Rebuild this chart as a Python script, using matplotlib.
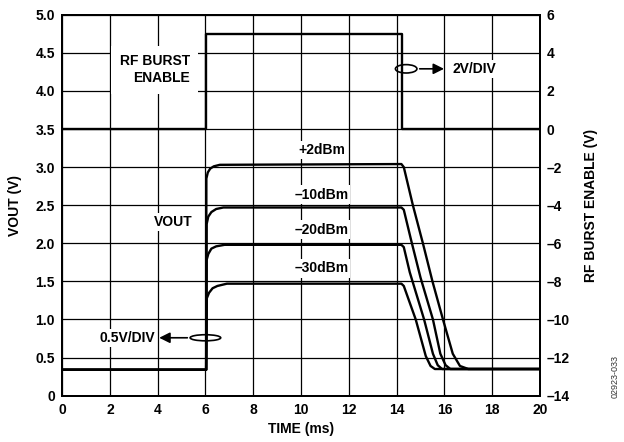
import matplotlib
matplotlib.use('Agg')
import matplotlib.pyplot as plt
from matplotlib.patches import Ellipse

plt.rcParams['font.family'] = ['Liberation Sans', 'DejaVu Sans']
plt.rcParams['font.weight'] = 'bold'
plt.rcParams['axes.labelweight'] = 'bold'

# VOUT traces (left axis, V)
t_p2 = [0, 6.03, 6.04, 6.1, 6.2, 6.35, 6.6, 14.2, 14.3, 14.68, 15.1, 15.5, 15.94, 16.35, 16.65, 17.0, 20]
v_p2 = [0.34, 0.34, 2.85, 2.93, 2.98, 3.01, 3.03, 3.04, 3.0, 2.5, 2.0, 1.5, 1.0, 0.55, 0.39, 0.35, 0.35]

t_m10 = [0, 6.03, 6.05, 6.12, 6.25, 6.45, 6.75, 14.2, 14.3, 14.6, 15.0, 15.52, 15.83, 16.05, 16.25, 20]
v_m10 = [0.34, 0.34, 2.25, 2.35, 2.41, 2.45, 2.47, 2.47, 2.44, 2.05, 1.55, 1.0, 0.55, 0.4, 0.35, 0.35]

t_m20 = [0, 6.03, 6.05, 6.12, 6.25, 6.45, 6.8, 14.2, 14.3, 14.55, 15.15, 15.52, 15.72, 15.9, 20]
v_m20 = [0.34, 0.34, 1.78, 1.86, 1.93, 1.96, 1.98, 1.98, 1.95, 1.62, 1.0, 0.55, 0.4, 0.35, 0.35]

t_m30 = [0, 6.03, 6.06, 6.15, 6.3, 6.5, 6.9, 14.2, 14.3, 14.8, 15.22, 15.42, 15.6, 20]
v_m30 = [0.34, 0.34, 1.28, 1.35, 1.41, 1.44, 1.47, 1.47, 1.44, 1.0, 0.52, 0.39, 0.35, 0.35]

# RF burst enable (right axis, V)
t_burst = [0, 6.04, 6.04, 14.22, 14.22, 20]
v_burst = [0, 0, 5.0, 5.0, 0, 0]

trace_labels = ['+2dBm', '\u201310dBm', '\u201320dBm', '\u201330dBm']
label_y = [3.22, 2.64, 2.18, 1.67]

x_ticks = list(range(0, 21, 2))
left_ticks = [0, 0.5, 1.0, 1.5, 2.0, 2.5, 3.0, 3.5, 4.0, 4.5, 5.0]
left_ticklabels = ['0', '0.5', '1.0', '1.5', '2.0', '2.5', '3.0', '3.5', '4.0', '4.5', '5.0']
right_ticks = list(range(-14, 7, 2))
right_ticklabels = [str(v).replace('-', '\u2013') for v in right_ticks]

fig = plt.figure(figsize=(6.24, 4.42), dpi=100)
ax = fig.add_axes([0.0994, 0.1048, 0.7660, 0.8619])

ax.set_xlim(0, 20)
ax.set_ylim(0, 5)
ax.set_xticks(x_ticks)
ax.set_yticks(left_ticks)
ax.set_yticklabels(left_ticklabels)
ax.grid(True, color='black', lw=0.9)
ax.set_axisbelow(True)
ax.tick_params(length=0, labelsize=10, pad=5)
for s in ax.spines.values():
    s.set_linewidth(1.4)

for t, v in [(t_p2, v_p2), (t_m10, v_m10), (t_m20, v_m20), (t_m30, v_m30)]:
    ax.plot(t, v, color='black', lw=1.7, zorder=4)

box = dict(facecolor='white', edgecolor='none', pad=1.5)
for lab, y in zip(trace_labels, label_y):
    ax.text(10.85, y, lab, ha='center', va='center', fontsize=10, bbox=box, zorder=3)

ax.text(5.35, 4.28, 'RF BURST\nENABLE', ha='right', va='center', fontsize=10,
        multialignment='right', linespacing=1.3,
        bbox=dict(facecolor='white', edgecolor='none', pad=6), zorder=3)
ax.text(5.45, 2.28, 'VOUT', ha='right', va='center', fontsize=10, bbox=box, zorder=3)

# scale markers
ax.add_patch(Ellipse((14.4, 4.29), 0.9, 0.11, fill=False, ec='black', lw=1.2, zorder=5))
ax.annotate('', xy=(16.1, 4.29), xytext=(14.85, 4.29),
            arrowprops=dict(arrowstyle='-|>', color='black', lw=1.2, mutation_scale=16), zorder=5)
ax.text(16.35, 4.29, '2V/DIV', ha='left', va='center', fontsize=10, bbox=box, zorder=3)

ax.add_patch(Ellipse((6.0, 0.76), 1.28, 0.08, fill=False, ec='black', lw=1.2, zorder=5))
ax.annotate('', xy=(3.95, 0.76), xytext=(5.36, 0.76),
            arrowprops=dict(arrowstyle='-|>', color='black', lw=1.2, mutation_scale=16), zorder=5)
ax.text(3.9, 0.76, '0.5V/DIV', ha='right', va='center', fontsize=10, bbox=box, zorder=3)

ax.set_xlabel('TIME (ms)', fontsize=10, fontweight='bold', labelpad=4)
ax.set_ylabel('VOUT (V)', fontsize=10, fontweight='bold', labelpad=10)

ax2 = ax.twinx()
ax2.set_ylim(-14, 6)
ax2.set_yticks(right_ticks)
ax2.set_yticklabels(right_ticklabels)
ax2.tick_params(length=0, labelsize=10, pad=5)
ax2.plot(t_burst, v_burst, color='black', lw=1.7)
ax2.set_ylabel('RF BURST ENABLE (V)', fontsize=10, fontweight='bold', rotation=90, labelpad=10)
for s in ax2.spines.values():
    s.set_linewidth(1.4)

fig.text(0.985, 0.1, '02923-033', rotation=90, fontsize=6.5, fontweight='normal',
         ha='center', va='bottom', color='#333333')

plt.savefig('out.png', dpi=100)
